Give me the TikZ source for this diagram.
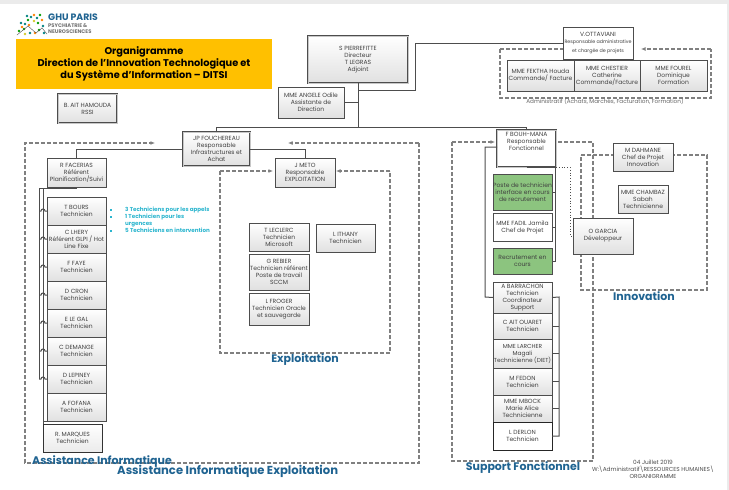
\documentclass[tikz,border=0pt]{standalone}
\usepackage{fontspec}
\setmainfont{Poppins}
\usetikzlibrary{arrows.meta, shadows}
\definecolor{titleyellow}{HTML}{FFC000}
\definecolor{secblue}{HTML}{1F6391}
\definecolor{linegray}{HTML}{4D4D4D}
\definecolor{dashgray}{HTML}{808080}
\definecolor{okgreen}{HTML}{8CC47F}
\definecolor{noteteal}{HTML}{2BB5CE}
\tikzset{>={Latex[length=4.5pt, width=4pt]}}
\tikzset{
    bx/.style 2 args={minimum width=#1pt, minimum height=#2pt},
    pers/.style={draw=linegray, line width=1pt, inner sep=0pt, outer sep=0pt, align=center, top color=white, bottom color=black!12, text=black!75, font=\fontsize{6}{7}\selectfont, drop shadow={shadow xshift=1pt, shadow yshift=-1pt, fill=black!45}},
    chef/.style={pers, double=black!22, double distance=1pt, draw=linegray, line width=.9pt},
    vac/.style={pers, top color=okgreen, bottom color=okgreen},
    blank/.style={pers, top color=white, bottom color=white},
    lnk/.style={draw=linegray, line width=1pt},
    zone/.style={draw=dashgray, line width=1.1pt, dash pattern=on 4pt off 2pt},
    sect/.style={text=secblue, font=\bfseries\fontsize{11}{13}\selectfont, inner sep=0pt},
    note/.style={text=noteteal, font=\bfseries\fontsize{5.6}{6.8}\selectfont, inner sep=0pt, anchor=west},
}
\begin{document}
\begin{tikzpicture}[x=1pt, y=-1pt]
    \useasboundingbox (0, 0) rectangle (729, 490);
    \fill[black!8] (0, 0) rectangle (729, 4);
    \fill[black!8] (727, 0) rectangle (729, 490);
    % logo
    \foreach \px/\py/\pc in {19/31/green!60!black, 22/27/orange, 25/24/teal, 28/20/green!60!black, 31/17/teal, 34/15/orange, 37/18/teal, 40/15/green!60!black, 42/20/orange, 38/23/green!60!black, 34/21/yellow!80!black, 29/25/orange, 24/29/green!60!black, 43/26/teal, 39/30/green!60!black, 35/33/orange, 30/33/teal, 25/34/yellow!80!black, 44/33/teal, 21/23/teal, 27/16/teal}
        \fill[\pc] (\px, \py) circle (1.3pt);
    \draw[linegray, line width=.4pt] (17, 35)--(28, 26)--(36, 33)--(42, 28)--(47, 34);
    \node[anchor=west, inner sep=0pt, text=secblue, font=\bfseries\fontsize{9.3}{10}\selectfont] (ghu) at (48, 17.5) {GHU PARIS};
    \node[anchor=north west, inner sep=0pt, text=black!55, align=left, font=\bfseries\fontsize{5.2}{6}\selectfont] (psy) at (48, 23.5) {PSYCHIATRIE \&\\NEUROSCIENCES};
    % titre
    \node[fill=titleyellow, minimum width=256pt, minimum height=50pt, inner sep=0pt, align=center, font=\bfseries\fontsize{9.8}{11.9}\selectfont] (titre) at (144, 64) {Organigramme\\Direction de l'Innovation Technologique et\\du Système d'Information – DITSI};
    % zones
    \draw[zone, ->] (419, 143)--(419, 463)--(25, 463)--(25, 143)--(155, 143);
    \draw[zone, ->] (419, 143)--(288, 143);
    \draw[zone, ->] (500, 49)--(570, 49);
    \draw[zone] (500, 49)--(500, 98)--(711, 98)--(711, 49);
    \draw[zone, ->] (711, 49)--(641, 49);
    \draw[zone, ->] (220, 171)--(273, 171);
    \draw[zone] (220, 171)--(220, 353)--(390, 353)--(390, 171);
    \draw[zone, ->] (390, 171)--(336, 171);
    \draw[zone, ->] (452, 142)--(495, 142);
    \draw[zone] (452, 142)--(452, 461)--(593, 461)--(593, 142)--(557, 142);
    \draw[zone] (581, 155)--(707, 155)--(707, 290)--(581, 290)--cycle;
    % personnes
    \node[chef, bx={100}{47}] (pierrefitte) at (358, 59.5) {S PIERREFITTE\\Directeur\\T LEGRAS\\Adjoint};
    \node[blank, bx={70}{32}] (ottaviani) at (598, 43) {V.OTTAVIANI\\[-.5pt]{\fontsize{4.8}{6}\selectfont Responsable administrative}\\[2pt]{\fontsize{4.8}{6}\selectfont et chargée de projets}};
    \node[pers, bx={67}{31}] (fektha) at (540.5, 75.5) {MME FEKTHA Houda\\Commande/ Facture};
    \node[pers, bx={66}{31}] (chestier) at (607, 75.5) {MME CHESTIER\\Catherine\\Commande/Facture};
    \node[pers, bx={67}{31}] (fourel) at (673.5, 75.5) {MME FOUREL\\Dominique\\Formation};
    \node[pers, bx={66}{31}] (angele) at (311, 102.5) {MME ANGELE Odile\\Assistante de\\Direction};
    \node[chef, bx={59}{29}] (hamouda) at (87.5, 108.5) {B. AIT HAMOUDA\\RSSI};
    \node[chef, bx={67}{34}] (fouchereau) at (216.5, 149) {JP FOUCHEREAU\\Responsable\\Infrastructures et\\Achat};
    \node[pers, bx={59}{29}] (facerias) at (76.5, 172.5) {R FACERIAS\\Référent\\Planification/Suivi};
    \node[pers, bx={59}{28}] (tech1) at (76.5, 211) {T BOURS\\Technicien};
    \node[pers, bx={59}{28}] (tech2) at (76.5, 239) {C LHERY\\Référent GLPI / Hot\\Line Fixe};
    \node[pers, bx={59}{28}] (tech3) at (76.5, 267) {F FAYE\\Technicien};
    \node[pers, bx={59}{28}] (tech4) at (76.5, 295) {D CRON\\Technicien};
    \node[pers, bx={59}{28}] (tech5) at (76.5, 323) {E LE GAL\\Technicien};
    \node[pers, bx={59}{28}] (tech6) at (76.5, 351) {C DEMANGE\\Technicien};
    \node[pers, bx={59}{28}] (tech7) at (76.5, 379) {D LEPINEY\\Technicien};
    \node[pers, bx={59}{28}] (tech8) at (76.5, 407) {A FOFANA\\Technicien};
    \node[blank, bottom color=black!8, bx={59}{28}, draw=black!80] (marques) at (72.5, 438) {R. MARQUES\\Technicien};
    \node[pers, bx={60}{29}] (meto) at (305, 172.5) {J METO\\Responsable\\EXPLOITATION};
    \node[pers, bx={60}{28}] (leclerc) at (279, 237) {T LECLERC\\Technicien\\Microsoft};
    \node[pers, bx={59}{28}] (ithany) at (345.5, 238) {L ITHANY\\Technicien};
    \node[pers, bx={60}{36}] (rebier) at (279, 272) {G REBIER\\Technicien référent\\Poste de travail\\SCCM};
    \node[pers, bx={60}{32}] (froger) at (279, 309) {L FROGER\\Technicien Oracle\\et sauvegarde};
    \node[chef, top color=white, bottom color=white, bx={59}{37}] (bouhmana) at (526.5, 148.5) {F BOUH-MANA\\Responsable\\Fonctionnel\\[7pt]\mbox{}};
    \node[vac, bx={59}{36}] (poste) at (522.5, 192) {Poste de technicien\\interface en cours\\de recrutement};
    \node[blank, bx={59}{28}] (fadil) at (522.5, 227) {MME FADIL Jamila\\Chef de Projet};
    \node[vac, bx={59}{26}] (recrut) at (522.5, 261) {Recrutement en\\cours};
    \node[pers, bx={59}{31}] (barrachon) at (522.5, 297.5) {A BARRACHON\\Technicien\\Coordinateur\\Support};
    \node[pers, bx={59}{26}] (ouaret) at (522.5, 326) {C AIT OUARET\\Technicien};
    \node[pers, bx={59}{29}, font=\fontsize{5.8}{7}\selectfont] (larcher) at (522.5, 353.5) {MME LARCHER\\Magali\\Technicienne (DIET)};
    \node[pers, bx={59}{27}] (fedon) at (522.5, 381.5) {M FEDON\\Technicien};
    \node[pers, bx={59}{27}] (mbock) at (522.5, 408.5) {MME MBOCK\\Marie Alice\\Technicienne};
    \node[blank, bx={59}{28}, draw=black!85] (derlon) at (522.5, 436) {L DERLON\\Technicien};
    \node[pers, bx={60}{28}] (dahmane) at (643, 157) {M DAHMANE\\Chef de Projet\\Innovation};
    \node[pers, bx={50}{28}] (chambaz) at (643, 199) {MME CHAMBAZ\\Sabah\\Technicienne};
    \node[pers, bx={60}{36}] (garcia) at (603, 236) {O GARCIA\\Développeur};
    % liens
    \coordinate (trunk) at (358, 127);
    \draw[lnk] (pierrefitte.south)--(trunk);
    \draw[lnk] (angele.east)--(angele.east-|trunk);
    \draw[lnk] (fouchereau.north)|-(trunk);
    \draw[lnk] (trunk)-|(bouhmana.north);
    \draw[lnk] (358, 90)-|(415, 43)--(415, 43-|ottaviani.west);
    \draw[lnk] (fouchereau.west)-|(facerias.north);
    \draw[lnk] (fouchereau.east)-|(meto.north);
    \draw[lnk] (facerias.south)--(76.5, 188)--(39, 188)--(39, 379);
    \draw[lnk] (43, 188)--(43, 424);
    \foreach \i in {1, ..., 7}
        \draw[lnk] (39, 0|-tech\i.west)--(41, 0|-tech\i.west) arc[start angle=180, end angle=0, radius=2pt]--(tech\i.west);
    \draw[lnk] (43, 0|-tech8.south)--(tech8.south west);
    \draw[lnk] (bouhmana.west|-0, 147)--(485, 147)--(485, 297)--(barrachon.west);
    \draw[lnk] (barrachon.east)--(559, 297)--(559, 436)--(derlon.east);
    \foreach \n in {ouaret, larcher, fedon, mbock}
        \draw[lnk] (\n.east)--(559, 0|-\n.east);
    \draw[lnk] (bouhmana.south)--(555, 0|-bouhmana.south)--(555, 261)--(recrut.east);
    \foreach \n in {poste, fadil}
        \draw[lnk] (\n.east)--(555, 0|-\n.east);
    \draw[linegray, dotted, line width=.8pt] (556, 167)--(570, 167)--(570, 236)--(garcia.west);
    % textes
    \fill[noteteal] (110, 209) rectangle (112, 211);
    \fill[noteteal] (110, 216) rectangle (112, 218);
    \fill[noteteal] (110, 230) rectangle (112, 232);
    \node[note] (note1) at (125, 210) {3 Techniciens pour les appels};
    \node[note, align=left, anchor=north west] (note2) at (125, 213.8) {1 Technicien pour les\\urgences};
    \node[note] (note3) at (125, 230.5) {5 Techniciens en intervention};
    \node[text=black!60, inner sep=0pt, font=\fontsize{5.7}{6}\selectfont] (admin) at (605, 101.5) {Administratif (Achats, Marchés, Facturation, Formation)};
    \node[sect, anchor=west] (asinfo) at (32, 462) {Assistance Informatique};
    \node[sect, anchor=west, font=\bfseries\fontsize{11.6}{13}\selectfont] (asexpl) at (117, 471) {Assistance Informatique Exploitation};
    \node[sect] (explo) at (305, 360) {Exploitation};
    \node[sect] (innov) at (644, 296) {Innovation};
    \node[sect] (supp) at (523, 468) {Support Fonctionnel};
    \node[text=black!70, inner sep=0pt, align=center, font=\fontsize{5.8}{7}\selectfont] (pied) at (653, 469) {04 Juillet 2019\\W:\textbackslash Administratif\textbackslash RESSOURCES HUMAINES\textbackslash\\ORGANIGRAMME};
\end{tikzpicture}
\end{document}
